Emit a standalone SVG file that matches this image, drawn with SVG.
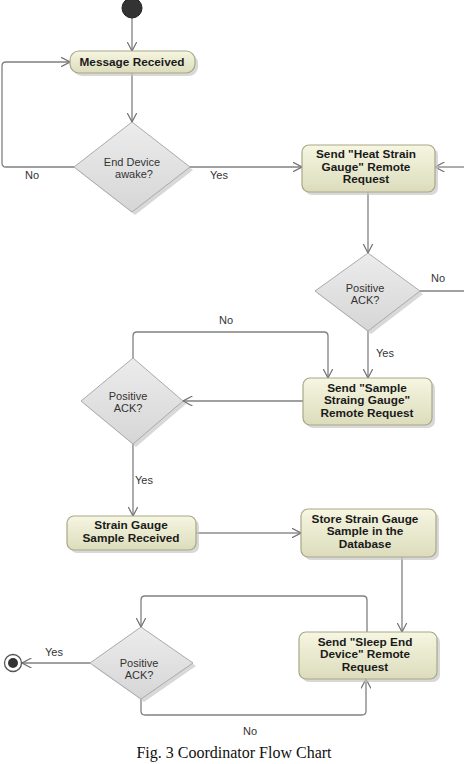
<svg xmlns="http://www.w3.org/2000/svg" width="464" height="764" viewBox="0 0 464 764">
<style>
.box{fill:url(#gb);stroke:#a8a888;stroke-width:1.2}
.dia{fill:url(#gd);stroke:#aaaaaa;stroke-width:1}
.sh{fill:#c8c8c8;opacity:.7}
.bt{font-family:"Liberation Sans",Arial,sans-serif;font-weight:bold;font-size:11.8px;fill:#1a1a1a;text-anchor:middle}
.dt{font-family:"Liberation Sans",Arial,sans-serif;font-size:11px;fill:#333;text-anchor:middle}
.lb{font-family:"Liberation Sans",Arial,sans-serif;font-size:11px;fill:#333}
.ln{fill:none;stroke:#808080;stroke-width:1.3;marker-end:url(#ar)}
.lnd{fill:none;stroke:#555;stroke-width:1.2;marker-end:url(#ar)}
.lp{fill:none;stroke:#808080;stroke-width:1.3}
</style>
<defs>
<linearGradient id="gb" x1="0" y1="0" x2="0" y2="1"><stop offset="0" stop-color="#f6f6e2"/><stop offset="1" stop-color="#dcdcbc"/></linearGradient>
<linearGradient id="gd" x1="0" y1="0" x2="0" y2="1"><stop offset="0" stop-color="#ececec"/><stop offset="1" stop-color="#d6d6d6"/></linearGradient>
<marker id="ar" viewBox="0 0 10 10" refX="9.5" refY="5" markerWidth="10" markerHeight="10" markerUnits="userSpaceOnUse" orient="auto"><path d="M0,0 L9.5,5 L0,10" fill="none" stroke="#707070" stroke-width="1.2"/></marker>
</defs>
<rect width="464" height="764" fill="#fff"/>
<g id="connectors">
<path class="ln" d="M132,18 V51"/>
<path class="ln" d="M132,73 V122"/>
<path class="ln" d="M74,167 H6 Q2,167 2,163 V66 Q2,62 6,62 H70"/>
<path class="ln" d="M190,167 H302"/>
<path class="ln" d="M464,167 H435"/>
<path class="ln" d="M368,192 V253"/>
<path class="lp" d="M420,291 H464"/>
<path class="ln" d="M368,331 V378"/>
<path class="ln" d="M133,358 V336 Q133,332 137,332 H324 Q328,332 328,336 V378"/>
<path class="ln" d="M303,401 H183"/>
<path class="ln" d="M133,444 V516"/>
<path class="lnd" d="M196,533 H301"/>
<path class="ln" d="M402,557 V632"/>
<path class="ln" d="M367,632 V600 Q367,596 363,596 H145 Q141,596 141,600 V627"/>
<path class="ln" d="M141,699 V711 Q141,715 145,715 H362 Q366,715 366,711 V679"/>
<path class="ln" d="M90,663 H22"/>
<text class="lb" x="25" y="179">No</text>
<text class="lb" x="210" y="179">Yes</text>
<text class="lb" x="431" y="282">No</text>
<text class="lb" x="376" y="357">Yes</text>
<text class="lb" x="219" y="324">No</text>
<text class="lb" x="135" y="484">Yes</text>
<text class="lb" x="45" y="656">Yes</text>
<text class="lb" x="243" y="735">No</text>
</g>
<g id="start"><circle cx="132" cy="8" r="10" fill="#333" stroke="#222"/></g>
<g id="msg">
<rect class="sh" x="73" y="54" width="125" height="22" rx="9"/>
<rect class="box" x="70" y="51" width="125" height="22" rx="9"/>
<text class="bt" x="132" y="66">Message Received</text>
</g>
<g id="d1">
<polygon class="sh" points="135,125 193,170 135,215 77,170"/>
<polygon class="dia" points="132,122 190,167 132,212 74,167"/>
<text class="dt" x="132" y="166">End Device</text>
<text class="dt" x="134" y="178">awake?</text>
</g>
<g id="heat">
<rect class="sh" x="305" y="148" width="133" height="47" rx="7"/>
<rect class="box" x="302" y="145" width="133" height="47" rx="7"/>
<text class="bt" x="366" y="158">Send "Heat Strain</text>
<text class="bt" x="366" y="170.5">Gauge" Remote</text>
<text class="bt" x="366" y="183">Request</text>
</g>
<g id="d2">
<polygon class="sh" points="371,256 423,294 371,334 318,294"/>
<polygon class="dia" points="368,253 420,291 368,331 315,291"/>
<text class="dt" x="365" y="292">Positive</text>
<text class="dt" x="365" y="304">ACK?</text>
</g>
<g id="sample">
<rect class="sh" x="306" y="381" width="129" height="47" rx="7"/>
<rect class="box" x="303" y="378" width="129" height="47" rx="7"/>
<text class="bt" x="367" y="391.5">Send "Sample</text>
<text class="bt" x="367" y="404">Straing Gauge"</text>
<text class="bt" x="367" y="416.5">Remote Request</text>
</g>
<g id="d3">
<polygon class="sh" points="136,361 186,404 136,447 84,404"/>
<polygon class="dia" points="133,358 183,401 133,444 81,401"/>
<text class="dt" x="128" y="400">Positive</text>
<text class="dt" x="128" y="412">ACK?</text>
</g>
<g id="received">
<rect class="sh" x="70" y="519" width="129" height="34" rx="7"/>
<rect class="box" x="67" y="516" width="129" height="34" rx="7"/>
<text class="bt" x="131" y="529">Strain Gauge</text>
<text class="bt" x="131" y="541.5">Sample Received</text>
</g>
<g id="store">
<rect class="sh" x="304" y="512" width="135" height="48" rx="7"/>
<rect class="box" x="301" y="509" width="135" height="48" rx="7"/>
<text class="bt" x="365" y="522.5">Store Strain Gauge</text>
<text class="bt" x="365" y="535">Sample in the</text>
<text class="bt" x="365" y="547.5">Database</text>
</g>
<g id="sleep">
<rect class="sh" x="302" y="635" width="138" height="47" rx="7"/>
<rect class="box" x="299" y="632" width="138" height="47" rx="7"/>
<text class="bt" x="365" y="645.5">Send "Sleep End</text>
<text class="bt" x="365" y="658">Device" Remote</text>
<text class="bt" x="365" y="670.5">Request</text>
</g>
<g id="d4">
<polygon class="sh" points="144,630 196,666 144,702 93,666"/>
<polygon class="dia" points="141,627 193,663 141,699 90,663"/>
<text class="dt" x="139" y="667">Positive</text>
<text class="dt" x="139" y="679">ACK?</text>
</g>
<g id="end">
<circle cx="13" cy="663" r="8.5" fill="#fff" stroke="#555" stroke-width="1.3"/>
<circle cx="13" cy="663" r="5" fill="#333"/>
</g>
<text x="234" y="758" font-family="Liberation Serif,'Times New Roman',serif" font-size="16" fill="#111" text-anchor="middle">Fig. 3 Coordinator Flow Chart</text>
</svg>
